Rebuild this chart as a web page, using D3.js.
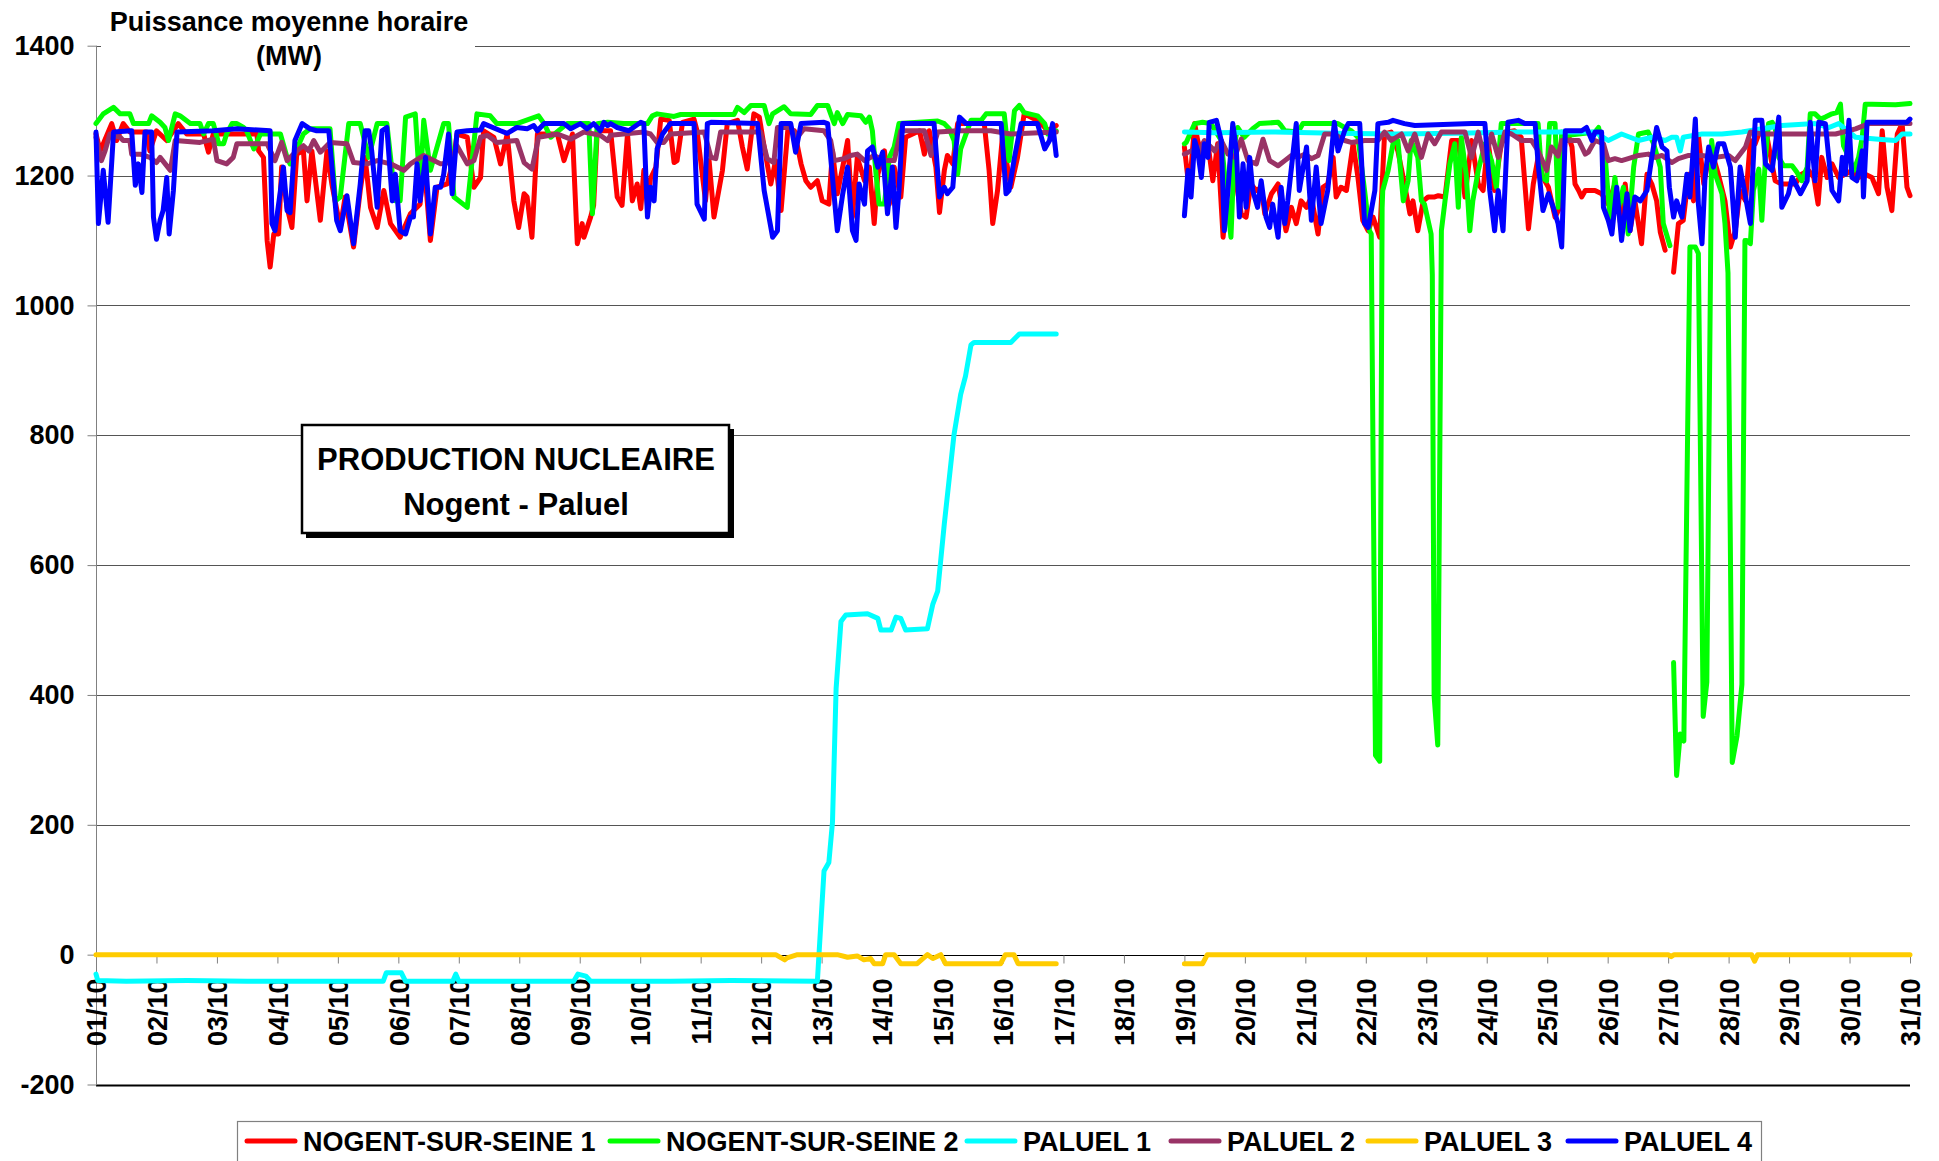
<!DOCTYPE html>
<html>
<head>
<meta charset="utf-8">
<script src="https://cdn.jsdelivr.net/npm/d3@7"></script>
<style>
  body { margin: 0; background: #fff; }
  text { font-family: "Liberation Sans", Arial, sans-serif; font-weight: bold; fill: #000; }
</style>
</head>
<body>
<svg id="chart" width="1939" height="1161"></svg>
<script>
// Puissance moyenne horaire (MW), x = day of October (1.0 = 01/10 00h)
var dayLabels = ["01/10","02/10","03/10","04/10","05/10","06/10","07/10","08/10","09/10","10/10",
  "11/10","12/10","13/10","14/10","15/10","16/10","17/10","18/10","19/10","20/10",
  "21/10","22/10","23/10","24/10","25/10","26/10","27/10","28/10","29/10","30/10","31/10"];
var yTicks = [-200, 0, 200, 400, 600, 800, 1000, 1200, 1400];
var seriesNames = ["NOGENT-SUR-SEINE 1", "NOGENT-SUR-SEINE 2", "PALUEL 1", "PALUEL 2", "PALUEL 3", "PALUEL 4"];
var seriesColors = ["#ff0000", "#00ff00", "#00ffff", "#993366", "#ffcc00", "#0000ff"];

var nogent1 = [[1.00,1264],[1.07,1238],[1.26,1280],[1.34,1254],[1.45,1280],[1.56,1267],[1.84,1267],[1.89,1238],[2.00,1269],[2.17,1254],[2.36,1280],[2.50,1264],[2.78,1264],[2.86,1236],[2.94,1264],[3.66,1264],[3.69,1238],[3.77,1228],[3.83,1100],[3.88,1059],[3.94,1110],[4.02,1110],[4.07,1213],[4.16,1151],[4.24,1120],[4.32,1233],[4.43,1238],[4.49,1161],[4.57,1238],[4.71,1131],[4.82,1238],[4.90,1187],[5.04,1120],[5.12,1167],[5.26,1090],[5.37,1177],[5.45,1228],[5.54,1151],[5.65,1120],[5.76,1177],[5.87,1126],[6.03,1105],[6.20,1141],[6.36,1156],[6.42,1228],[6.53,1100],[6.64,1182],[6.81,1187],[6.92,1228],[6.97,1264],[7.14,1259],[7.25,1182],[7.36,1197],[7.41,1269],[7.58,1259],[7.69,1218],[7.80,1264],[7.91,1161],[7.99,1120],[8.08,1172],[8.13,1167],[8.21,1105],[8.30,1264],[8.63,1264],[8.74,1223],[8.88,1264],[8.96,1095],[9.04,1126],[9.07,1105],[9.18,1136],[9.23,1154],[9.29,1269],[9.51,1269],[9.62,1167],[9.70,1154],[9.79,1264],[9.87,1161],[9.95,1187],[10.01,1149],[10.06,1208],[10.12,1154],[10.17,1195],[10.26,1213],[10.34,1287],[10.48,1285],[10.56,1220],[10.61,1223],[10.70,1282],[10.89,1287],[10.94,1269],[11.08,1161],[11.14,1223],[11.22,1136],[11.36,1208],[11.44,1280],[11.61,1285],[11.69,1244],[11.77,1210],[11.88,1295],[11.97,1290],[12.05,1244],[12.16,1187],[12.24,1223],[12.33,1146],[12.44,1269],[12.55,1269],[12.66,1218],[12.74,1192],[12.82,1182],[12.93,1192],[13.01,1161],[13.12,1156],[13.18,1238],[13.26,1172],[13.37,1223],[13.43,1254],[13.51,1136],[13.59,1228],[13.71,1192],[13.79,1213],[13.87,1126],[13.93,1202],[14.04,1238],[14.12,1156],[14.20,1213],[14.31,1167],[14.39,1259],[14.62,1269],[14.70,1233],[14.78,1269],[14.89,1213],[14.95,1143],[15.03,1208],[15.08,1231],[15.17,1218],[15.25,1280],[15.69,1280],[15.77,1208],[15.83,1126],[15.91,1177],[15.99,1259],[16.13,1182],[16.24,1228],[16.35,1295],[16.52,1287],[16.63,1280],[16.74,1269],[16.88,1277],[17.9,null],
  [19.00,1244],[19.08,1177],[19.17,1280],[19.22,1254],[19.30,1228],[19.39,1249],[19.47,1192],[19.55,1249],[19.64,1105],[19.72,1187],[19.77,1228],[19.86,1187],[19.94,1141],[20.02,1136],[20.10,1187],[20.19,1177],[20.27,1182],[20.33,1141],[20.44,1172],[20.55,1187],[20.68,1115],[20.77,1151],[20.85,1126],[20.93,1161],[21.02,1151],[21.10,1167],[21.21,1110],[21.29,1182],[21.37,1187],[21.46,1228],[21.51,1167],[21.59,1182],[21.68,1177],[21.79,1249],[21.87,1197],[21.95,1131],[22.04,1115],[22.12,1136],[22.23,1105],[22.31,1264],[22.42,1267],[22.53,1238],[22.64,1187],[22.73,1141],[22.78,1161],[22.86,1115],[22.95,1161],[23.03,1167],[23.14,1167],[23.20,1169],[23.31,1167],[23.42,1254],[23.53,1254],[23.64,1167],[23.75,1254],[23.86,1187],[23.94,1177],[24.02,1254],[24.13,1177],[24.24,1249],[24.35,1267],[24.46,1269],[24.57,1259],[24.69,1118],[24.77,1187],[24.85,1228],[24.93,1197],[25.02,1182],[25.13,1136],[25.21,1151],[25.30,1260],[25.35,1262],[25.41,1244],[25.46,1187],[25.52,1177],[25.57,1167],[25.63,1177],[25.79,1177],[25.90,1172],[26.01,1156],[26.12,1187],[26.23,1115],[26.29,1187],[26.37,1115],[26.45,1161],[26.56,1095],[26.65,1202],[26.73,1187],[26.81,1161],[26.87,1113],[26.95,1085],[27.02,null],
  [27.09,1051],[27.17,1126],[27.25,1131],[27.34,1202],[27.42,1161],[27.50,1262],[27.59,1187],[27.67,1228],[27.75,1228],[27.83,1202],[27.94,1161],[28.03,1090],[28.11,1115],[28.19,1177],[28.28,1161],[28.36,1254],[28.44,1249],[28.52,1269],[28.63,1262],[28.77,1192],[28.88,1187],[28.99,1187],[29.10,1187],[29.21,1202],[29.32,1208],[29.41,1197],[29.48,1156],[29.54,1228],[29.63,1197],[29.71,1218],[29.82,1197],[29.93,1202],[30.04,1208],[30.15,1197],[30.26,1202],[30.37,1197],[30.48,1172],[30.54,1269],[30.62,1182],[30.70,1146],[30.79,1264],[30.87,1280],[30.95,1182],[31.00,1169]];

var nogent2 = [[1.00,1280],[1.12,1295],[1.29,1305],[1.40,1295],[1.56,1295],[1.62,1280],[1.87,1280],[1.92,1292],[2.06,1282],[2.14,1274],[2.20,1254],[2.31,1295],[2.39,1292],[2.56,1280],[2.72,1280],[2.78,1264],[2.86,1280],[2.94,1280],[3.03,1249],[3.11,1249],[3.16,1264],[3.25,1280],[3.33,1280],[3.44,1274],[3.49,1269],[3.61,1241],[3.72,1264],[3.88,1264],[4.05,1264],[4.16,1228],[4.21,1218],[4.43,1264],[4.54,1272],[4.87,1272],[4.96,1161],[5.04,1167],[5.18,1280],[5.37,1280],[5.51,1228],[5.65,1280],[5.81,1280],[5.95,1161],[6.03,1161],[6.12,1290],[6.28,1295],[6.36,1177],[6.42,1285],[6.53,1208],[6.75,1280],[6.83,1280],[6.92,1167],[7.14,1151],[7.30,1295],[7.52,1292],[7.63,1280],[7.96,1280],[8.32,1292],[8.41,1280],[8.52,1259],[8.79,1280],[9.15,1280],[9.21,1141],[9.29,1280],[9.46,1282],[9.73,1280],[10.12,1280],[10.20,1292],[10.28,1295],[10.56,1291],[10.67,1294],[11.55,1294],[11.61,1305],[11.72,1297],[11.83,1308],[12.05,1308],[12.13,1280],[12.19,1295],[12.38,1306],[12.49,1295],[12.82,1294],[12.93,1308],[13.10,1308],[13.15,1295],[13.21,1280],[13.26,1297],[13.35,1280],[13.43,1294],[13.65,1292],[13.73,1282],[13.79,1290],[13.84,1269],[13.90,1202],[13.95,1156],[14.04,1156],[14.12,1228],[14.20,1244],[14.28,1280],[14.92,1284],[15.03,1280],[15.11,1272],[15.19,1254],[15.25,1202],[15.30,1241],[15.47,1285],[15.64,1285],[15.72,1295],[16.02,1295],[16.10,1223],[16.19,1300],[16.27,1308],[16.35,1297],[16.57,1292],[16.69,1280],[16.74,1264],[16.88,1269],[17.9,null],
  [19.00,1249],[19.03,1251],[19.17,1280],[19.30,1282],[19.44,1280],[19.61,1254],[19.69,1177],[19.77,1105],[19.83,1249],[19.88,1274],[19.99,1259],[20.13,1272],[20.24,1280],[20.55,1282],[20.60,1277],[20.66,1269],[20.88,1267],[20.96,1280],[21.54,1280],[21.65,1274],[21.76,1269],[21.87,1259],[21.98,1177],[22.06,1115],[22.09,1110],[22.16,307],[22.23,298],[22.27,1150],[22.28,1177],[22.37,1208],[22.45,1249],[22.53,1254],[22.62,1161],[22.70,1192],[22.75,1254],[22.86,1228],[22.92,1161],[22.97,1156],[23.08,1110],[23.10,1047],[23.13,398],[23.19,323],[23.25,1115],[23.31,1161],[23.39,1218],[23.47,1249],[23.53,1151],[23.58,1259],[23.66,1202],[23.72,1115],[23.77,1161],[23.86,1208],[23.97,1249],[24.08,1223],[24.16,1182],[24.24,1280],[24.85,1280],[24.91,1197],[24.99,1192],[25.04,1280],[25.13,1280],[25.18,1151],[25.24,1267],[25.35,1262],[25.79,1267],[25.85,1274],[25.96,1228],[26.04,1131],[26.12,1197],[26.18,1151],[26.26,1182],[26.34,1110],[26.43,1213],[26.51,1264],[26.67,1267],[26.76,1249],[26.87,1213],[26.92,1126],[27.03,1092],[27.06,null],
  [27.09,450],[27.14,276],[27.20,340],[27.26,329],[27.36,1090],[27.45,1090],[27.50,1080],[27.58,367],[27.64,420],[27.72,1254],[27.78,1202],[27.89,1172],[27.94,1126],[27.99,1050],[28.06,296],[28.14,337],[28.22,416],[28.27,1100],[28.30,1100],[28.36,1095],[28.41,1177],[28.50,1210],[28.55,1131],[28.61,1228],[28.66,1280],[28.72,1282],[28.77,1274],[28.83,1228],[28.91,1215],[29.05,1215],[29.13,1205],[29.21,1192],[29.30,1213],[29.35,1295],[29.43,1295],[29.52,1287],[29.60,1290],[29.71,1295],[29.79,1297],[29.85,1310],[29.90,1246],[29.99,1228],[30.07,1208],[30.15,1228],[30.21,1259],[30.26,1310],[30.37,1310],[30.76,1309],[31.00,1311]];

var paluel1 = [[1.00,-30],[1.03,-40],[1.50,-41],[2.50,-40],[3.50,-41],[4.50,-41],[5.75,-41],[5.80,-28],[6.05,-28],[6.12,-41],[6.90,-41],[6.95,-30],[7.00,-41],[8.90,-41],[8.97,-30],[9.10,-33],[9.18,-41],[10.50,-41],[11.50,-40],[12.93,-41],[13.04,129],[13.12,142],[13.18,204],[13.24,410],[13.32,513],[13.40,523],[13.76,525],[13.93,518],[13.98,500],[14.15,500],[14.23,520],[14.31,518],[14.39,500],[14.75,502],[14.84,540],[14.92,560],[15.03,664],[15.19,801],[15.30,863],[15.38,891],[15.47,939],[15.52,943],[16.13,943],[16.27,956],[16.88,956],[17.9,null],
  [19.00,1267],[19.50,1266],[20.50,1267],[21.50,1265],[22.50,1264],[23.50,1265],[24.50,1267],[25.24,1267],[25.79,1267],[26.01,1254],[26.23,1264],[26.51,1254],[26.73,1259],[26.95,1254],[27.06,1259],[27.14,1259],[27.20,1238],[27.25,1259],[27.56,1264],[27.89,1264],[28.22,1267],[28.88,1277],[29.43,1280],[29.66,1274],[29.82,1280],[30.10,1259],[30.48,1256],[30.76,1254],[30.87,1264],[31.00,1264]];

var paluel2 = [[1.00,1259],[1.09,1223],[1.15,1238],[1.23,1264],[1.40,1259],[1.45,1254],[1.56,1254],[1.59,1233],[1.73,1233],[1.89,1228],[2.00,1220],[2.06,1228],[2.23,1208],[2.31,1254],[2.72,1251],[2.94,1256],[3.00,1223],[3.16,1218],[3.27,1228],[3.33,1249],[3.83,1249],[3.96,1223],[4.07,1251],[4.16,1223],[4.32,1238],[4.43,1246],[4.52,1238],[4.60,1254],[4.71,1236],[4.87,1251],[5.15,1249],[5.26,1220],[5.48,1218],[5.65,1223],[5.87,1218],[6.09,1208],[6.20,1218],[6.42,1231],[6.70,1218],[6.86,1220],[6.97,1246],[7.14,1218],[7.25,1223],[7.36,1259],[7.47,1262],[7.63,1251],[7.96,1254],[8.08,1220],[8.21,1210],[8.32,1259],[8.63,1264],[8.85,1256],[9.07,1267],[9.34,1262],[9.46,1254],[9.51,1262],[10.06,1267],[10.17,1264],[10.28,1251],[10.39,1251],[10.50,1264],[11.06,1267],[11.17,1228],[11.25,1226],[11.33,1267],[11.99,1267],[12.10,1226],[12.21,1220],[12.27,1274],[12.49,1274],[12.60,1259],[12.71,1272],[13.04,1269],[13.15,1254],[13.21,1223],[13.37,1226],[13.48,1231],[13.59,1233],[13.71,1223],[13.87,1231],[14.04,1223],[14.20,1223],[14.31,1269],[14.70,1269],[14.81,1231],[14.92,1267],[15.25,1269],[15.80,1269],[16.13,1264],[16.88,1267],[17.9,null],
  [19.00,1233],[19.11,1238],[19.22,1233],[19.33,1254],[19.50,1238],[19.61,1254],[19.72,1233],[19.83,1228],[19.94,1256],[20.05,1223],[20.19,1218],[20.30,1256],[20.41,1223],[20.55,1215],[20.66,1223],[20.77,1231],[20.88,1228],[20.99,1233],[21.10,1226],[21.21,1231],[21.32,1264],[21.48,1264],[21.65,1254],[21.76,1251],[21.98,1254],[22.20,1254],[22.31,1267],[22.42,1254],[22.59,1264],[22.70,1238],[22.81,1264],[22.92,1228],[23.03,1264],[23.14,1249],[23.25,1267],[23.64,1267],[23.75,1228],[23.86,1267],[23.97,1223],[24.08,1264],[24.19,1228],[24.30,1267],[24.41,1264],[24.57,1254],[24.74,1254],[24.85,1238],[24.99,1208],[25.07,1244],[25.18,1230],[25.24,1254],[25.52,1254],[25.63,1233],[25.68,1236],[25.79,1254],[25.93,1249],[26.01,1223],[26.12,1226],[26.23,1223],[26.34,1226],[26.51,1231],[26.67,1233],[26.79,1228],[26.90,1231],[27.06,1220],[27.17,1226],[27.34,1231],[27.56,1231],[27.78,1228],[28.00,1231],[28.11,1223],[28.28,1244],[28.36,1267],[28.55,1264],[29.10,1264],[29.77,1264],[30.10,1272],[30.32,1280],[31.00,1280]];

var paluel3 = [[1.00,0],[12.24,0],[12.39,-8],[12.43,-5],[12.60,0],[13.26,0],[13.43,-4],[13.59,-2],[13.70,-8],[13.81,-6],[13.87,-14],[14.01,-14],[14.06,0],[14.20,0],[14.31,-14],[14.58,-14],[14.75,0],[14.84,-6],[14.97,0],[15.05,-14],[15.96,-14],[16.04,0],[16.18,0],[16.25,-14],[16.88,-14],[17.9,null],
  [19.00,-14],[19.30,-14],[19.38,0],[27.00,0],[27.05,-3],[27.10,0],[28.38,0],[28.43,-10],[28.48,0],[31.00,0]];

var paluel4 = [[1.00,1267],[1.04,1126],[1.12,1208],[1.20,1128],[1.29,1267],[1.59,1269],[1.65,1185],[1.70,1218],[1.76,1174],[1.81,1267],[1.92,1267],[1.95,1136],[2.00,1102],[2.06,1131],[2.11,1146],[2.17,1197],[2.21,1110],[2.28,1177],[2.34,1267],[2.94,1269],[3.33,1272],[3.88,1269],[3.91,1126],[3.96,1115],[4.05,1177],[4.10,1213],[4.16,1146],[4.21,1143],[4.29,1254],[4.41,1280],[4.54,1272],[4.65,1269],[4.85,1269],[4.98,1131],[5.04,1115],[5.15,1169],[5.26,1095],[5.37,1187],[5.45,1269],[5.51,1269],[5.56,1238],[5.65,1151],[5.73,1269],[5.81,1274],[5.90,1161],[5.95,1202],[6.03,1115],[6.12,1110],[6.20,1136],[6.25,1136],[6.31,1218],[6.36,1161],[6.45,1228],[6.53,1110],[6.61,1182],[6.70,1182],[6.75,1202],[6.83,1264],[6.89,1172],[6.97,1267],[7.14,1269],[7.36,1270],[7.41,1280],[7.69,1269],[7.80,1265],[7.96,1274],[8.13,1272],[8.24,1277],[8.30,1269],[8.41,1280],[8.74,1280],[8.85,1272],[9.01,1280],[9.12,1272],[9.23,1280],[9.34,1269],[9.40,1282],[9.46,1277],[9.51,1280],[9.62,1274],[9.81,1269],[10.01,1282],[10.06,1280],[10.12,1136],[10.17,1182],[10.23,1161],[10.28,1241],[10.37,1264],[10.50,1280],[10.89,1280],[10.94,1156],[11.06,1133],[11.11,1280],[11.17,1282],[11.94,1280],[12.05,1177],[12.19,1105],[12.27,1115],[12.33,1280],[12.49,1280],[12.57,1236],[12.66,1280],[13.04,1282],[13.10,1280],[13.18,1197],[13.26,1115],[13.35,1172],[13.43,1213],[13.51,1115],[13.57,1100],[13.62,1187],[13.71,1156],[13.76,1238],[13.84,1244],[13.93,1213],[14.01,1236],[14.09,1141],[14.17,1213],[14.23,1120],[14.28,1177],[14.34,1280],[14.86,1280],[14.95,1167],[15.03,1182],[15.08,1172],[15.17,1182],[15.22,1241],[15.28,1290],[15.39,1280],[15.97,1280],[16.05,1172],[16.10,1177],[16.19,1228],[16.30,1280],[16.57,1280],[16.69,1241],[16.77,1254],[16.82,1280],[16.88,1231],[17.9,null],
  [19.00,1138],[19.06,1208],[19.11,1167],[19.17,1254],[19.22,1238],[19.28,1197],[19.33,1249],[19.39,1228],[19.41,1282],[19.53,1285],[19.61,1254],[19.66,1115],[19.72,1177],[19.80,1280],[19.86,1238],[19.91,1136],[19.97,1218],[20.02,1151],[20.08,1228],[20.13,1177],[20.21,1151],[20.27,1192],[20.35,1136],[20.41,1120],[20.46,1156],[20.55,1105],[20.60,1182],[20.66,1126],[20.71,1161],[20.85,1280],[20.90,1177],[21.02,1244],[21.10,1131],[21.18,1213],[21.26,1126],[21.37,1177],[21.48,1282],[21.54,1238],[21.65,1269],[21.71,1280],[21.90,1280],[21.98,1126],[22.04,1120],[22.15,1177],[22.20,1280],[22.37,1282],[22.45,1285],[22.64,1280],[22.81,1277],[23.75,1280],[23.97,1280],[24.05,1177],[24.13,1115],[24.19,1177],[24.27,1115],[24.35,1282],[24.52,1285],[24.63,1280],[24.80,1280],[24.85,1218],[24.93,1146],[25.02,1172],[25.10,1151],[25.18,1126],[25.24,1090],[25.30,1269],[25.57,1269],[25.65,1274],[25.74,1254],[25.79,1267],[25.90,1267],[25.93,1151],[26.01,1131],[26.07,1110],[26.15,1182],[26.23,1100],[26.32,1172],[26.37,1115],[26.45,1167],[26.54,1161],[26.65,1177],[26.73,1228],[26.81,1274],[26.90,1244],[26.98,1238],[27.02,1182],[27.09,1136],[27.14,1161],[27.23,1136],[27.31,1202],[27.36,1167],[27.45,1287],[27.50,1156],[27.56,1095],[27.61,1197],[27.67,1244],[27.75,1213],[27.83,1249],[27.92,1249],[28.03,1213],[28.11,1105],[28.19,1213],[28.28,1167],[28.36,1126],[28.44,1285],[28.55,1285],[28.61,1218],[28.72,1208],[28.83,1290],[28.88,1151],[28.99,1172],[29.05,1197],[29.19,1172],[29.30,1192],[29.35,1282],[29.43,1192],[29.49,1282],[29.60,1280],[29.71,1177],[29.82,1161],[29.88,1228],[29.93,1202],[29.99,1285],[30.04,1197],[30.12,1192],[30.21,1238],[30.23,1167],[30.29,1282],[30.76,1282],[30.95,1282],[31.00,1287]];

var allSeries = [nogent1, nogent2, paluel1, paluel2, paluel3, paluel4];

var svg = d3.select("#chart");

var x = d3.scaleLinear().domain([1, dayLabels.length]).range([96, 1910]);
var y = d3.scaleLinear().domain([-200, 1400]).range([1084.5, 45.7]);

// horizontal gridlines (0 and -200 in black)
svg.append("g").selectAll("line")
    .data(yTicks)
    .enter()
    .append("line")
    .attr("x1", x.range()[0])
    .attr("x2", x.range()[1])
    .attr("y1", function(d) { return Math.round(y(d)) + 0.5; })
    .attr("y2", function(d) { return Math.round(y(d)) + 0.5; })
    .attr("stroke", function(d) { return d <= 0 ? "#000" : "#555"; })
    .attr("stroke-width", function(d) { return d == -200 ? 1.8 : 1.2; });

// y axis
var yAxis = svg.append("g")
    .attr("transform", "translate(" + (x.range()[0] + 0.5) + ",0)")
    .call(d3.axisLeft(y).tickValues(yTicks).tickSize(9).tickPadding(13)
        .tickFormat(function(d) { return String(d); }));
yAxis.select(".domain").attr("stroke", "#808080").attr("d", "M0," + y(1400) + "V" + y(-200));
yAxis.selectAll(".tick line").attr("stroke", "#808080");
yAxis.selectAll(".tick text")
    .style("font-size", "27px")
    .attr("font-family", null);

// x axis on the zero line
var xAxis = svg.append("g")
    .attr("transform", "translate(0," + (Math.round(y(0)) + 0.5) + ")")
    .call(d3.axisBottom(x)
        .tickValues(dayLabels.map(function(d, i) { return i + 1; }))
        .tickSize(8)
        .tickFormat(function(d) { return dayLabels[d - 1]; }));
xAxis.select(".domain").remove();
xAxis.selectAll(".tick line").attr("stroke", "#808080");
xAxis.selectAll(".tick text")
    .attr("font-family", null)
    .style("font-size", "27px")
    .style("text-anchor", "end")
    .attr("transform", "rotate(-90)")
    .attr("x", -23)
    .attr("y", 0)
    .attr("dy", "0.36em");

// series lines, in legend order so Paluel 4 sits on top
var line = d3.line()
    .defined(function(d) { return d[1] != null; })
    .x(function(d) { return x(d[0]); })
    .y(function(d) { return y(d[1]); })
    .curve(d3.curveLinear);

svg.append("g").selectAll("path")
    .data(allSeries)
    .enter()
    .append("path")
    .attr("d", line)
    .attr("fill", "none")
    .attr("stroke", function(d, i) { return seriesColors[i]; })
    .attr("stroke-width", 5)
    .attr("stroke-linejoin", "round")
    .attr("stroke-linecap", "round");

// axis title with its white backing
svg.append("rect")
    .attr("x", 101).attr("y", 0)
    .attr("width", 374).attr("height", 76)
    .attr("fill", "#fff");
var title = svg.append("text")
    .attr("text-anchor", "middle")
    .style("font-size", "27px");
title.append("tspan").attr("x", 289).attr("y", 31).text("Puissance moyenne horaire");
title.append("tspan").attr("x", 289).attr("y", 65).text("(MW)");

// boxed label
svg.append("rect")
    .attr("x", 306).attr("y", 429)
    .attr("width", 428).attr("height", 109)
    .attr("fill", "#000");
svg.append("rect")
    .attr("x", 302).attr("y", 425)
    .attr("width", 427).attr("height", 108)
    .attr("fill", "#fff")
    .attr("stroke", "#000")
    .attr("stroke-width", 2.5);
var boxText = svg.append("text")
    .attr("text-anchor", "middle")
    .style("font-size", "31px");
boxText.append("tspan").attr("x", 516).attr("y", 470).text("PRODUCTION NUCLEAIRE");
boxText.append("tspan").attr("x", 516).attr("y", 515).text("Nogent - Paluel");

// legend
var legendStarts = [245, 608, 965, 1169, 1366, 1566];
svg.append("rect")
    .attr("x", 237.5).attr("y", 1121.5)
    .attr("width", 1524).attr("height", 60)
    .attr("fill", "#fff")
    .attr("stroke", "#808080")
    .attr("stroke-width", 1.2);
var legend = svg.append("g").selectAll("g")
    .data(seriesNames)
    .enter()
    .append("g")
    .attr("transform", function(d, i) { return "translate(" + legendStarts[i] + ",1141)"; });
legend.append("line")
    .attr("x1", 2).attr("x2", 50)
    .attr("stroke", function(d, i) { return seriesColors[i]; })
    .attr("stroke-width", 5)
    .attr("stroke-linecap", "round");
legend.append("text")
    .attr("x", 58)
    .attr("dy", "0.36em")
    .style("font-size", "27px")
    .text(function(d) { return d; });
</script>
</body>
</html>
